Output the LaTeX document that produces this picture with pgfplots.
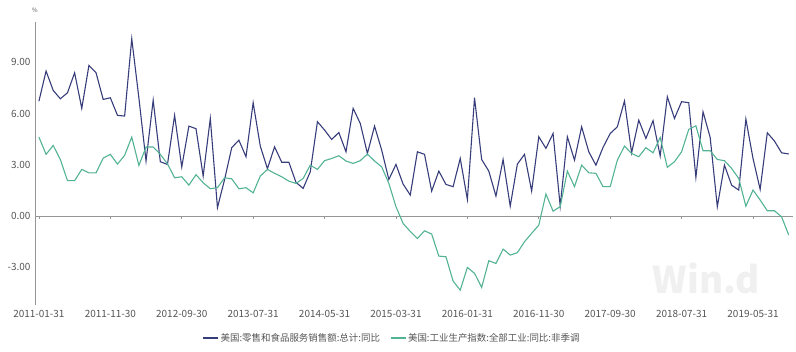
\documentclass[border=0pt]{standalone}
\usepackage{pgfplots}
\pgfplotsset{compat=1.18}
\usepackage{pgfplotstable}
\usepackage{fontspec}
\setmainfont{Noto Sans CJK SC}
\definecolor{cblue}{RGB}{55,60,122}
\definecolor{cgreen}{RGB}{82,178,148}
\definecolor{ctext}{RGB}{85,85,85}
\definecolor{caxis}{RGB}{150,150,150}
\pgfplotstableread{
i v
0 6.72
1 8.48
2 7.35
3 6.86
4 7.21
5 8.38
6 6.30
7 8.81
8 8.38
9 6.82
10 6.92
11 5.89
12 5.85
13 10.37
14 6.9
15 3.22
16 6.78
17 3.18
18 3.02
19 5.89
20 2.87
21 5.26
22 5.11
23 2.34
24 5.71
25 0.49
26 2.14
27 4.00
28 4.44
29 3.47
30 6.63
31 4.09
32 2.77
33 4.05
34 3.15
35 3.15
36 1.97
37 1.62
38 2.59
39 5.52
40 5.03
41 4.48
42 4.89
43 3.76
44 6.30
45 5.42
46 3.66
47 5.26
48 3.86
49 2.14
50 3.02
51 1.87
52 1.23
53 3.76
54 3.61
55 1.46
56 2.63
57 1.85
58 1.72
59 3.37
60 0.97
61 6.92
62 3.31
63 2.63
64 1.17
65 3.31
66 0.58
67 3.04
68 3.61
69 1.46
70 4.64
71 3.96
72 4.83
73 0.58
74 4.64
75 3.27
76 5.22
77 3.76
78 2.98
79 4.02
80 4.83
81 5.22
82 6.73
83 3.70
84 5.61
85 4.54
86 5.58
87 3.51
88 6.98
89 5.71
90 6.69
91 6.63
92 2.26
93 6.10
94 4.60
95 0.55
96 2.98
97 1.81
98 1.52
99 5.67
100 3.37
101 1.56
102 4.87
103 4.39
104 3.70
105 3.63
}\retail
\pgfplotstableread{
i v
0 4.62
1 3.61
2 4.13
3 3.31
4 2.07
5 2.07
6 2.73
7 2.53
8 2.53
9 3.39
10 3.61
11 3.04
12 3.55
13 4.62
14 2.96
15 4.04
16 4.04
17 3.61
18 3.06
19 2.24
20 2.30
21 1.81
22 2.42
23 1.95
24 1.60
25 1.66
26 2.24
27 2.18
28 1.60
29 1.66
30 1.36
31 2.34
32 2.73
33 2.50
34 2.30
35 2.04
36 1.91
37 2.20
38 2.98
39 2.73
40 3.24
41 3.37
42 3.53
43 3.22
44 3.08
45 3.24
46 3.63
47 3.22
48 2.88
49 1.91
50 0.55
51 -0.43
52 -0.90
53 -1.31
54 -0.86
55 -1.05
56 -2.34
57 -2.38
58 -3.80
59 -4.33
60 -3.00
61 -3.35
62 -4.17
63 -2.61
64 -2.77
65 -1.93
66 -2.28
67 -2.14
68 -1.50
69 -1.01
70 -0.53
71 1.29
72 0.29
73 0.55
74 2.63
75 1.72
76 2.98
77 2.53
78 2.50
79 1.72
80 1.72
81 3.27
82 4.09
83 3.66
84 3.47
85 4.00
86 3.70
87 4.60
88 2.85
89 3.18
90 3.76
91 5.07
92 5.28
93 3.82
94 3.82
95 3.31
96 3.24
97 2.79
98 2.20
99 0.58
100 1.52
101 0.94
102 0.31
103 0.31
104 -0.04
105 -1.11
}\indprod
\begin{document}
\begin{tikzpicture}
\begin{axis}[
  scale only axis,
  width=758bp, height=283bp,
  xmin=-0.55, xmax=105.6,
  ymin=-5.2, ymax=11.35,
  axis x line=bottom,
  axis y line=left,
  x axis line style={draw=none, -},
  y axis line style={draw=caxis, -},
  xtick={0,10,20,30,40,50,60,70,80,90,100},
  xticklabels={2011-01-31,2011-11-30,2012-09-30,2013-07-31,2014-05-31,2015-03-31,2016-01-31,2016-11-30,2017-09-30,2018-07-31,2019-05-31},
  ytick={-3,0,3,6,9},
  major tick length=0pt,
  tick label style={font=\fontsize{10}{12}\selectfont, text=ctext},
  xticklabel style={yshift=-2bp},
  yticklabel style={xshift=-1bp},
  /pgf/number format/assume math mode=true,
  yticklabel={\pgfmathprintnumber[fixed,fixed zerofill,precision=2]{\tick}},
  legend columns=2,
  legend style={draw=none, fill=none, at={(axis description cs:0.471,-0.1166)}, anchor=center,
    font=\fontsize{9.5}{11}\selectfont, text=ctext,
    /tikz/every even column/.append style={column sep=8bp}},
  legend image code/.code={\draw[#1] (0bp,0bp) -- (15bp,0bp);},
  clip=false,
]
\draw[caxis, line width=0.8pt] (axis cs:-0.55,0) -- (axis cs:105.6,0);
\pgfplotsinvokeforeach{0,10,20,30,40,50,60,70,80,90,100}{
  \draw[caxis, line width=0.6pt] (axis cs:#1,0) -- ([yshift=-2.5bp]axis cs:#1,0);
}
\node[text=black!6, font=\fontsize{37}{37}\selectfont\bfseries] at (rel axis cs:0.886,0.095) {Win.d};
\node[text=ctext, font=\fontsize{6}{6}\selectfont] at ([yshift=12bp]rel axis cs:0,1) {\%};
\coordinate (ll) at (rel axis cs:0,0);
\addplot[cblue, line width=1.1pt] table[x=i, y=v] {\retail};
\addlegendentry{美国:零售和食品服务销售额:总计:同比}
\addplot[cgreen, line width=1.1pt] table[x=i, y=v] {\indprod};
\addlegendentry{美国:工业生产指数:全部工业:同比:非季调}
\end{axis}
\pgfresetboundingbox
\path[use as bounding box] ([shift={(-35bp,-47bp)}]ll) rectangle ++(796bp,352bp);
\end{tikzpicture}
\end{document}
